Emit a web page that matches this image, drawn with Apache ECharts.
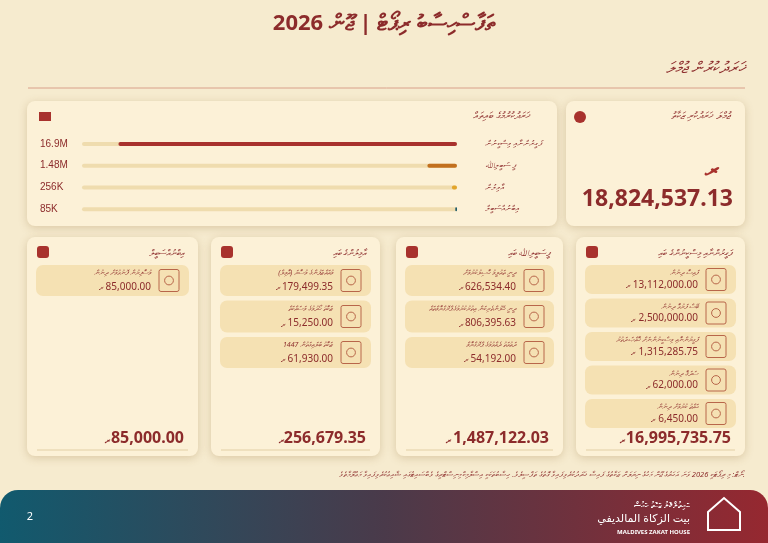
<!DOCTYPE html>
<html>
<head>
<meta charset="utf-8">
<script src="https://cdn.jsdelivr.net/npm/echarts@6/dist/echarts.min.js"></script>
<style>
  html, body { margin: 0; padding: 0; background: #f6ebcf; }
  #main { width: 768px; height: 543px; }
</style>
</head>
<body>
<div id="main"></div>
<script>
// figures
const categories = ['ފަގީރުންނާއި މިސްކީނުން', 'ފީ ސަބީލިﷲ', 'އާމިލުން', 'އިބްނުއްސަބީލް'];
const shortLabels = ['16.9M', '1.48M', '256K', '85K'];
const totals = [16995735.75, 1487122.03, 256679.35, 85000.00];
const barColors = ['#a8322d', '#c2701e', '#e2a52b', '#1f5c6a'];
const grandTotal = 18824537.13;

const cardTitles = ['ފަގީރުންނާއި މިސްކީނުންގެ ބައި', 'ފީސަބީލިﷲ ބައި', 'އާމިލުންގެ ބައި', 'އިބްނުއްސަބީލް'];
const itemLabels = [
  ['ފައިސާ ދިނުން', 'ބޭސް ފަރުވާ ދިނުން', 'ފަގީރުންނާއި މިސްކީނުންނަށް ޚާއްޞަ ދަތުރު', 'ސަދަޤާ ދިނުން', 'ޙައްޖު ކުރުމަށް ދިނުން'],
  ['ދީނީ ތައުލީމު ހާސިލުކުރުމަށް', 'ދީނީ ހޭލުންތެރިކަން އިތުރުކުރުމުގެ ޕްރޮގްރާމްތައް', 'ދަޢުވަތު ދެއްވުމުގެ ޕްރޮގްރާމް'],
  ['މުއައްޒަފުންގެ މުސާރަ (އާމިލް)', 'ޒަކާތު ހޯދުމުގެ މަސައްކަތް', 'ޒަކާތު ބަލައިގަތުން 1447'],
  ['މުސާފިރުން ފޮނުވުމަށް ދިނުން']
];
const itemValues = [
  [13112000.00, 2500000.00, 1315285.75, 62000.00, 6450.00],
  [626534.40, 806395.63, 54192.00],
  [179499.35, 15250.00, 61930.00],
  [85000.00]
];

const RED = '#8c2b2b';
const CARD = '#fcf1d7';
const BOX = '#f5e1b3';
const FONT = '"Noto Sans", "DejaVu Sans"';
const fmt = v => v.toLocaleString('en-US', { minimumFractionDigits: 2, maximumFractionDigits: 2 });

const shadow = { shadowBlur: 8, shadowColor: 'rgba(140,100,40,0.25)', shadowOffsetY: 2 };
const graphics = [];

function card(x, y, w, h) {
  graphics.push({ type: 'rect', shape: { x, y, width: w, height: h, r: 8 }, style: Object.assign({ fill: CARD }, shadow), z: -5 });
}
function text(x, y, t, font, color, align) {
  graphics.push({ type: 'text', x, y, style: { text: t, font, fill: color || RED, textAlign: align || 'left', textVerticalAlign: 'middle' }, z: 5 });
}
function icon(x, y, s) {
  graphics.push({ type: 'rect', shape: { x, y, width: s, height: s * 1.1, r: 2 }, style: { fill: 'none', stroke: '#b8664a', lineWidth: 1 }, z: 5 });
  graphics.push({ type: 'circle', shape: { cx: x + s * 0.5, cy: y + s * 0.55, r: s * 0.22 }, style: { fill: 'none', stroke: '#b8664a', lineWidth: 1 }, z: 5 });
}

// header
text(384, 24, 'ތަފާސްހިސާބު ރިޕޯޓް | ޖޫން 2026', 'bold 22px ' + FONT, RED, 'center');
text(745, 68, 'ޚަރަދުކުރުން ޖުމްލަ', 'italic 16px ' + FONT, RED, 'right');
graphics.push({ type: 'line', shape: { x1: 28, y1: 88, x2: 745, y2: 88 }, style: { stroke: '#d9a08a', lineWidth: 1 }, z: 5 });

// bar card + total card
card(27, 101, 530, 125);
text(530, 116, 'ޚަރަދުކުރުމުގެ ބައިތައް', 'italic 10px ' + FONT, RED, 'right');
graphics.push({ type: 'rect', shape: { x: 39, y: 112, width: 12, height: 9 }, style: { fill: '#a8322d' }, z: 5 });
card(566, 101, 179, 125);
text(730, 116, 'ޖުމްލަ ޚަރަދުކުރި ޒަކާތު', 'italic 10px ' + FONT, RED, 'right');
graphics.push({ type: 'circle', shape: { cx: 580, cy: 117, r: 6 }, style: { fill: '#a8322d' }, z: 5 });
text(712, 170, 'ރ', 'bold 24px ' + FONT, '#a8322d', 'center');
text(733, 199, fmt(grandTotal), 'bold 23px ' + FONT, RED, 'right');

// bottom cards
const cards = [
  { x: 576, w: 169, steps: [29, 29, 29, 29, 29] },
  { x: 396, w: 167, steps: [31, 32, 31] },
  { x: 211, w: 169, steps: [31, 32, 31] },
  { x: 27, w: 171, steps: [31] }
];
cards.forEach((c, i) => {
  card(c.x, 237, c.w, 219);
  text(c.x + c.w - 14, 253, cardTitles[i], 'italic 9px ' + FONT, RED, 'right');
  graphics.push({ type: 'rect', shape: { x: c.x + 10, y: 246, width: 12, height: 12, r: 3 }, style: { fill: '#a8322d' }, z: 5 });
  let y = 265;
  itemValues[i].forEach((v, k) => {
    const bx = c.x + 9, bw = c.w - 18, bh = c.steps[k];
    graphics.push({ type: 'rect', shape: { x: bx, y, width: bw, height: bh, r: 7 }, style: { fill: BOX }, z: 0 });
    icon(bx + bw - 30, y + bh / 2 - 11, 20);
    text(bx + bw - 38, y + 8, itemLabels[i][k], 'italic 7px ' + FONT, RED, 'right');
    text(bx + bw - 38, y + bh - 9, fmt(v), '10px ' + FONT, RED, 'right');
    text(bx + bw - 38 - fmt(v).length * 5 - 5, y + bh - 7, 'ރ', '8px ' + FONT, RED, 'center');
    y += bh + 4.5;
  });
  const t = fmt(totals[i]);
  text(c.x + c.w - 14, 438, t, 'bold 16px ' + FONT, RED, 'right');
  text(c.x + c.w - 14 - t.length * 8 - 5, 441, 'ރ', 'bold 9px ' + FONT, RED, 'center');
  graphics.push({ type: 'line', shape: { x1: c.x + 10, y1: 450, x2: c.x + c.w - 10, y2: 450 }, style: { stroke: '#e2cfa5', lineWidth: 1 }, z: 5 });
});

// footnote
text(745, 475, 'ނޯޓް: މި ރިޕޯޓަކީ 2026 ވަނަ އަހަރުގެ ޖޫން މަހުގެ ނިޔަލަށް ޒަކާތުގެ ފައިސާ ޚަރަދުކުރެވިފައިވާ ގޮތުގެ ތަފްސީލެވެ. ހިސާބުތަކަކީ އިސްލާމިކް މިނިސްޓްރީގެ ވެބްސައިޓުގައި ޝާއިޢުކުރެވިފައިވާ މަޢުލޫމާތެވެ.', 'italic 7.5px ' + FONT, RED, 'right');

// footer band
graphics.push({
  type: 'rect', shape: { x: 0, y: 490, width: 768, height: 53, r: [18, 18, 0, 0] },
  style: { fill: new echarts.graphic.LinearGradient(0, 0, 1, 0, [{ offset: 0, color: '#115a6e' }, { offset: 0.5, color: '#4a3a4a' }, { offset: 1, color: '#962830' }]) },
  z: -5
});
text(30, 517, '2', '11px ' + FONT, '#ffffff', 'center');
text(690, 506, 'ބައިތުލްމާލު ޒަކާތު ހައުސް', '8px ' + FONT, '#ffffff', 'right');
text(690, 519, 'بيت الزكاة المالديفي', '11px ' + FONT, '#ffffff', 'right');
text(690, 532, 'MALDIVES ZAKAT HOUSE', 'bold 6px ' + FONT, '#ffffff', 'right');
graphics.push({ type: 'polygon', shape: { points: [[708, 512], [724, 498], [740, 512], [740, 530], [708, 530]] }, style: { fill: 'none', stroke: '#ffffff', lineWidth: 2 }, z: 5 });

const chart = echarts.init(document.getElementById('main'));
chart.setOption({
  animation: false,
  backgroundColor: '#f6ebcf',
  graphic: graphics,
  grid: { left: 82, right: 311, top: 133, bottom: 323 },
  xAxis: { type: 'value', inverse: true, min: 0, max: grandTotal, show: false },
  yAxis: [
    {
      type: 'category', data: categories, inverse: true, position: 'right',
      axisLine: { show: false }, axisTick: { show: false },
      axisLabel: { margin: 28, color: RED, fontSize: 8, fontStyle: 'italic', align: 'left' }
    },
    {
      type: 'category', data: shortLabels, inverse: true, position: 'left',
      axisLine: { show: false }, axisTick: { show: false },
      axisLabel: { margin: 42, color: RED, fontSize: 10, align: 'left' }
    }
  ],
  series: [{
    type: 'bar', z: 10, barWidth: 4,
    data: totals.map((v, i) => ({ value: v, itemStyle: { color: barColors[i] } })),
    itemStyle: { borderRadius: 2 },
    showBackground: true,
    backgroundStyle: { color: '#efdcae', borderRadius: 2 }
  }]
});
</script>
</body>
</html>
